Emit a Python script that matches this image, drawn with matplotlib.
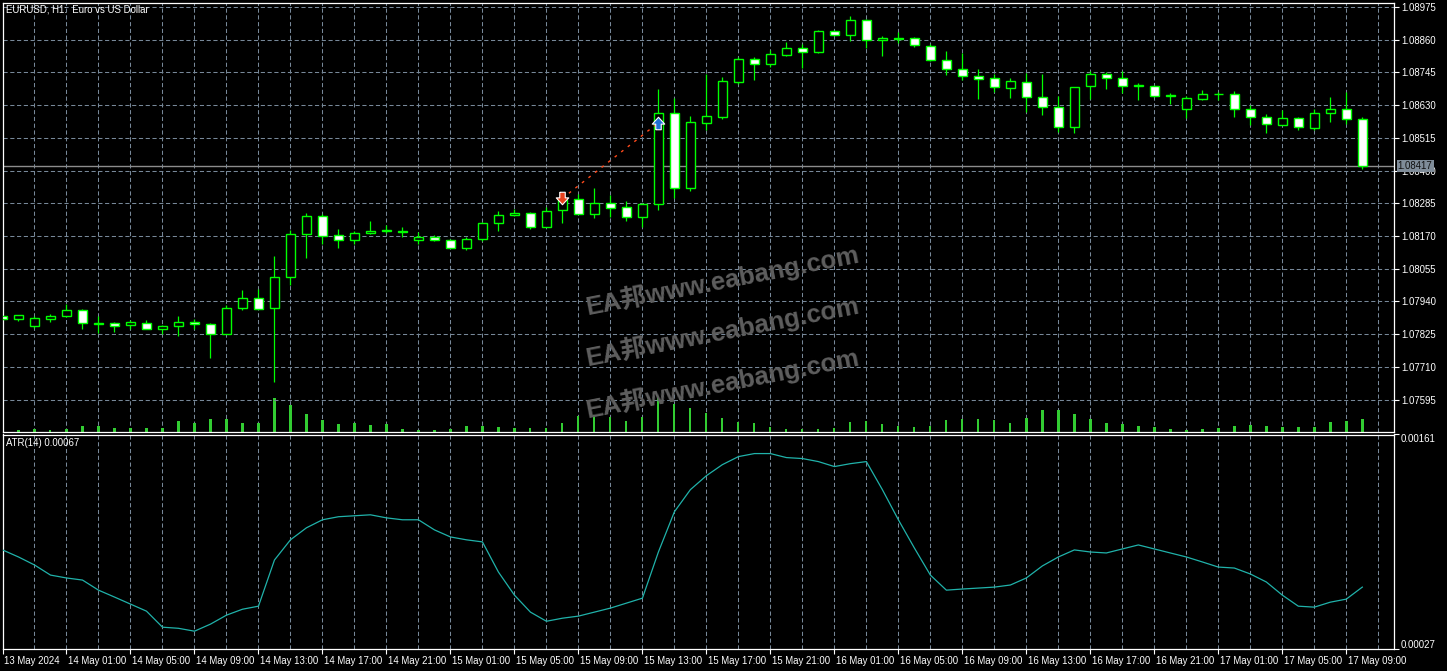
import matplotlib
matplotlib.use('Agg')
import matplotlib.pyplot as plt
import matplotlib.transforms as mtransforms
from matplotlib.patches import Rectangle
from matplotlib.path import Path
import numpy as np

W, H = 1447, 671

# ---------------- data ----------------
symbol_title = "EURUSD, H1:  Euro vs US Dollar"
opens = [1.07887, 1.07878, 1.07853, 1.07878, 1.07888, 1.07911, 1.07862, 1.07863, 1.07857, 1.07865,
         1.07843, 1.07853, 1.07869, 1.07862, 1.07825, 1.07916, 1.07953, 1.07916, 1.08025, 1.08176,
         1.08239, 1.08172, 1.08156, 1.08180, 1.08188, 1.08185, 1.08157, 1.08168, 1.08157, 1.08129,
         1.08159, 1.08217, 1.08242, 1.08252, 1.08202, 1.08263, 1.08299, 1.08247, 1.08287, 1.08271,
         1.08237, 1.08284, 1.08604, 1.08339, 1.08568, 1.08589, 1.08713, 1.08791, 1.08773, 1.08807,
         1.08830, 1.08816, 1.08890, 1.08875, 1.08928, 1.08858, 1.08865, 1.08865, 1.08837, 1.08788,
         1.08756, 1.08734, 1.08724, 1.08689, 1.08713, 1.08657, 1.08622, 1.08552, 1.08696, 1.08741,
         1.08724, 1.08699, 1.08699, 1.08664, 1.08615, 1.08652, 1.08669, 1.08668, 1.08618, 1.08587,
         1.08561, 1.08583, 1.08550, 1.08601, 1.08618, 1.08580]
highs = [1.07891, 1.07892, 1.07887, 1.07894, 1.07932, 1.07912, 1.07887, 1.07866, 1.07873, 1.07876,
         1.07856, 1.07887, 1.07879, 1.07863, 1.07926, 1.07979, 1.07982, 1.08098, 1.08190, 1.08250,
         1.08246, 1.08193, 1.08186, 1.08222, 1.08210, 1.08203, 1.08184, 1.08172, 1.08160, 1.08166,
         1.08218, 1.08257, 1.08266, 1.08253, 1.08273, 1.08303, 1.08316, 1.08339, 1.08313, 1.08292,
         1.08285, 1.08686, 1.08654, 1.08591, 1.08739, 1.08728, 1.08800, 1.08798, 1.08824, 1.08852,
         1.08844, 1.08893, 1.08894, 1.08944, 1.08934, 1.08873, 1.08886, 1.08868, 1.08844, 1.08820,
         1.08812, 1.08756, 1.08741, 1.08727, 1.08744, 1.08739, 1.08662, 1.08694, 1.08751, 1.08746,
         1.08751, 1.08709, 1.08702, 1.08671, 1.08662, 1.08683, 1.08677, 1.08679, 1.08629, 1.08598,
         1.08612, 1.08587, 1.08615, 1.08658, 1.08676, 1.08587]
lows = [1.07875, 1.07871, 1.07846, 1.07867, 1.07885, 1.07843, 1.07828, 1.07832, 1.07843, 1.07842,
        1.07826, 1.07818, 1.07843, 1.07740, 1.07824, 1.07909, 1.07912, 1.07656, 1.07996, 1.08091,
        1.08141, 1.08128, 1.08140, 1.08176, 1.08180, 1.08166, 1.08141, 1.08151, 1.08127, 1.08120,
        1.08152, 1.08188, 1.08239, 1.08195, 1.08201, 1.08216, 1.08246, 1.08233, 1.08237, 1.08223,
        1.08202, 1.08260, 1.08304, 1.08327, 1.08542, 1.08580, 1.08706, 1.08718, 1.08765, 1.08803,
        1.08759, 1.08813, 1.08873, 1.08856, 1.08832, 1.08804, 1.08849, 1.08833, 1.08785, 1.08737,
        1.08720, 1.08652, 1.08677, 1.08656, 1.08605, 1.08596, 1.08536, 1.08533, 1.08652, 1.08687,
        1.08671, 1.08648, 1.08658, 1.08635, 1.08585, 1.08648, 1.08648, 1.08589, 1.08561, 1.08532,
        1.08559, 1.08544, 1.08542, 1.08571, 1.08563, 1.08406]
closes = [1.07878, 1.07891, 1.07880, 1.07890, 1.07911, 1.07865, 1.07865, 1.07854, 1.07866, 1.07843,
          1.07854, 1.07869, 1.07860, 1.07826, 1.07918, 1.07953, 1.07913, 1.08025, 1.08176, 1.08239,
          1.08170, 1.08157, 1.08182, 1.08189, 1.08190, 1.08189, 1.08168, 1.08157, 1.08129, 1.08161,
          1.08217, 1.08242, 1.08252, 1.08202, 1.08259, 1.08296, 1.08247, 1.08287, 1.08270, 1.08237,
          1.08284, 1.08604, 1.08339, 1.08569, 1.08591, 1.08715, 1.08791, 1.08773, 1.08809, 1.08830,
          1.08816, 1.08890, 1.08875, 1.08928, 1.08858, 1.08865, 1.08864, 1.08840, 1.08788, 1.08756,
          1.08734, 1.08722, 1.08692, 1.08714, 1.08657, 1.08622, 1.08552, 1.08692, 1.08741, 1.08724,
          1.08699, 1.08700, 1.08661, 1.08661, 1.08654, 1.08668, 1.08670, 1.08617, 1.08587, 1.08562,
          1.08583, 1.08552, 1.08601, 1.08618, 1.08580, 1.08417]
tick_volumes = [0, 6, 8, 6, 10, 18, 18, 12, 12, 12, 12,
                33, 28, 38, 38, 27, 28, 102, 80, 54, 35,
                24, 27, 21, 24, 9, 5, 6, 10, 18, 18,
                16, 12, 12, 12, 27, 48, 52, 46, 33, 46,
                104, 84, 72, 56, 43, 30, 27, 15, 9, 9,
                9, 12, 31, 33, 24, 18, 15, 18, 36, 39,
                39, 36, 28, 43, 66, 66, 55, 39, 27, 24,
                18, 15, 9, 6, 9, 12, 18, 21, 18, 15,
                15, 15, 30, 33, 39]
atr14 = [0.000890, 0.000846, 0.000796, 0.000733, 0.000715, 0.000702, 0.000639, 0.000596, 0.000552, 0.000508,
         0.000408, 0.000401, 0.000383, 0.000427, 0.000483, 0.000520, 0.000539, 0.000827, 0.000953, 0.001028,
         0.001078, 0.001097, 0.001103, 0.001109, 0.001090, 0.001078, 0.001078, 0.001015, 0.000971, 0.000953,
         0.000940, 0.000752, 0.000608, 0.000502, 0.000445, 0.000464, 0.000477, 0.000502, 0.000527, 0.000558,
         0.000589, 0.000877, 0.001128, 0.001266, 0.001353, 0.001422, 0.001472, 0.001491, 0.001491, 0.001466,
         0.001460, 0.001441, 0.001410, 0.001428, 0.001441, 0.001266, 0.001078, 0.000902, 0.000733, 0.000639,
         0.000646, 0.000652, 0.000658, 0.000671, 0.000715, 0.000790, 0.000846, 0.000890, 0.000877, 0.000871,
         0.000896, 0.000921, 0.000896, 0.000871, 0.000846, 0.000815, 0.000783, 0.000777, 0.000740, 0.000690,
         0.000608, 0.000539, 0.000533, 0.000564, 0.000583, 0.000658]
atr_label = "ATR(14) 0.00067"
time_labels = ["13 May 2024", "14 May 01:00", "14 May 05:00", "14 May 09:00", "14 May 13:00",
               "14 May 17:00", "14 May 21:00", "15 May 01:00", "15 May 05:00", "15 May 09:00",
               "15 May 13:00", "15 May 17:00", "15 May 21:00", "16 May 01:00", "16 May 05:00",
               "16 May 09:00", "16 May 13:00", "16 May 17:00", "16 May 21:00", "17 May 01:00",
               "17 May 05:00", "17 May 09:00"]
price_ticks = [1.08975, 1.08860, 1.08745, 1.08630, 1.08515, 1.08400, 1.08285,
               1.08170, 1.08055, 1.07940, 1.07825, 1.07710, 1.07595]
atr_ticks = [0.00161, 0.00027]
last_price = 1.08417
trade_bars = [35, 41]
trade_prices = [1.08302, 1.08568]
watermark = "EA邦www.eabang.com"

# ---------------- style ----------------
GREEN = '#00ff00'
VOLG = '#32cd32'
GRIDC = '#778899'
FONT = ['Liberation Sans', 'DejaVu Sans']
plt.rcParams['font.family'] = FONT

n = len(opens)
xs = np.arange(n)

fig = plt.figure(figsize=(W / 100, H / 100), dpi=100, facecolor='black')

def rect(l, t, r, b):
    return [l / W, 1 - b / H, (r - l) / W, (b - t) / H]

main_rect = rect(2.5, 2.5, 1394.3, 432)
# volume window (drawn first, behind the price axes)
axv = fig.add_axes(main_rect, zorder=0)
ax = fig.add_axes(main_rect, zorder=1)
axa = fig.add_axes(rect(2.5, 434.5, 1394.3, 649.3))

px_per_bar = 16.0
x0 = (2.5 - 2.3) / px_per_bar
x1 = (1394.3 - 2.3) / px_per_bar

axv.set_facecolor('black')
axv.set_xlim(x0, x1)
axv.set_ylim(0, 429.5 * 3)
axv.axis('off')

for a in (ax, axa):
    for s in a.spines.values():
        s.set_color('white')
        s.set_linewidth(0.9)
    a.set_xlim(x0, x1)
ax.patch.set_alpha(0)
axa.set_facecolor('black')

# main price scale (price per pixel from the tick spacing)
ppx = (price_ticks[0] - price_ticks[-1]) / 392.5
ax.set_ylim(price_ticks[0] - (432 - 7) * ppx, price_ticks[0] + (7 - 2.5) * ppx)

dash = (0, (4, 2.5))
grid_x = list(range(0, 88, 2))
for gx in grid_x:
    axv.axvline(gx, color=GRIDC, lw=0.75, ls=dash, zorder=1)
    axa.axvline(gx, color=GRIDC, lw=0.75, ls=dash, zorder=1)
for py in price_ticks:
    ax.axhline(py, color=GRIDC, lw=0.75, ls=dash, zorder=1)

# volumes
axv.bar(xs, tick_volumes, width=0.15, color=VOLG, linewidth=0, zorder=2)

# current price line
ax.axhline(last_price, color='#8c8c8c', lw=1.0, zorder=2)

# candles
min_h = 0.6 * ppx
for i in range(n):
    o, h, l, c = opens[i], highs[i], lows[i], closes[i]
    ax.vlines(i, l, h, color=GREEN, lw=0.9, zorder=3)
    bot = min(o, c)
    hgt = abs(c - o)
    if hgt < min_h:
        bot = (o + c) / 2 - min_h / 2
        hgt = min_h
    fc = 'white' if c < o else 'black'
    ax.add_patch(Rectangle((i - 0.29, bot), 0.58, hgt, facecolor=fc,
                           edgecolor=GREEN, lw=1.0, zorder=4))

# trade arrows and dotted line
ax.plot(trade_bars, trade_prices, color='#ff4a1c', lw=1.0, ls=(0, (2, 4)), zorder=5)
down_arrow = Path([(-0.22, 0.5), (0.22, 0.5), (0.22, 0.05), (0.5, 0.05), (0, -0.5),
                   (-0.5, 0.05), (-0.22, 0.05), (-0.22, 0.5)])
up_arrow = Path([(-0.22, -0.5), (0.22, -0.5), (0.22, -0.05), (0.5, -0.05), (0, 0.5),
                 (-0.5, -0.05), (-0.22, -0.05), (-0.22, -0.5)])
ax.plot([trade_bars[0]], [trade_prices[0]], marker=down_arrow, ms=9, mfc='#e8401c',
        mec='white', mew=0.8, ls='none', zorder=6)
ax.plot([trade_bars[1]], [trade_prices[1]], marker=up_arrow, ms=9, mfc='#1f6fd6',
        mec='white', mew=0.8, ls='none', zorder=6)

# right price axis
ax.yaxis.tick_right()
ax.yaxis.set_label_position('right')
ax.set_yticks(price_ticks)
ax.set_yticklabels([f"{p:.5f}" for p in price_ticks])
ax.tick_params(axis='y', colors='white', length=3.6, width=0.8, direction='out',
               pad=1.2, labelsize=6.9, labelcolor='white', left=False, labelleft=False,
               right=True, labelright=True)
ax.set_xticks([])

# current price box
btrans = mtransforms.blended_transform_factory(ax.transAxes, ax.transData) + \
    mtransforms.ScaledTranslation(3.5 / 100, 0, fig.dpi_scale_trans)
ax.text(1.0, last_price, f"{last_price:.5f}", transform=btrans, ha='left', va='center',
        fontsize=6.9, color='#101010', clip_on=False, zorder=20,
        bbox=dict(boxstyle='square,pad=0.12', fc='#7f8c99', ec='none'))

# ATR subwindow
axa.set_ylim(atr_ticks[1], atr_ticks[0])
axa.plot(xs, atr14, color='#20b2aa', lw=0.9, zorder=3)
axa.yaxis.tick_right()
axa.set_yticks(atr_ticks)
axa.set_yticklabels([])
axa.tick_params(axis='y', colors='white', length=3.6, width=0.8, direction='out')
fig.text(1401 / W, 1 - 439.5 / H, f"{atr_ticks[0]:.5f}", color='white', fontsize=6.9,
         ha='left', va='center')
fig.text(1401 / W, 1 - 644.5 / H, f"{atr_ticks[1]:.5f}", color='white', fontsize=6.9,
         ha='left', va='center')

label_pos = list(range(0, 4 * len(time_labels), 4))
axa.set_xticks(label_pos)
axa.set_xticklabels(time_labels)
axa.tick_params(axis='x', colors='white', length=3.6, width=0.8, direction='out',
                pad=1.0, labelsize=6.9, labelcolor='white')
off = mtransforms.ScaledTranslation(1.5 / 100, 0, fig.dpi_scale_trans)
for lab in axa.get_xticklabels():
    lab.set_horizontalalignment('left')
    lab.set_transform(lab.get_transform() + off)

# texts
fig.text(6 / W, 1 - 9.5 / H, symbol_title, color='white', fontsize=6.9, ha='left', va='center')
fig.text(6 / W, 1 - 442.5 / H, atr_label, color='white', fontsize=6.9, ha='left', va='center')

# watermark
for cy in (280, 331, 383):
    fig.text(722 / W, 1 - cy / H, watermark, color='#5e5e5e', fontsize=18.5,
             fontweight='bold', family=['Liberation Sans', 'Noto Sans CJK SC'],
             rotation=11, rotation_mode='anchor', ha='center', va='center', zorder=30)

fig.savefig('out.png', dpi=100, facecolor='black')
